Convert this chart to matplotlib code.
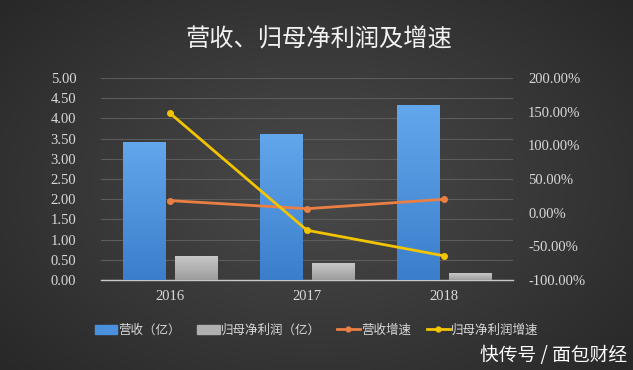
import numpy as np
import matplotlib
matplotlib.use("Agg")
import matplotlib.pyplot as plt
from matplotlib.patches import Patch
from matplotlib.lines import Line2D
from matplotlib.colors import LinearSegmentedColormap

plt.rcParams['font.family'] = ['Noto Sans CJK SC', 'DejaVu Sans']

# data
years = ["2016", "2017", "2018"]
revenue = [3.40, 3.61, 4.33]          # 营收（亿）
net_profit = [0.57, 0.42, 0.15]       # 归母净利润（亿）
revenue_growth = [18.0, 6.0, 20.0]    # 营收增速 %
profit_growth = [148.0, -26.0, -64.0] # 归母净利润增速 %

left_ticks = np.arange(0, 5.01, 0.5)
right_ticks = np.arange(-100, 201, 50)

TXT = "#d9d9d9"
num_font = dict(family="Liberation Serif", size=10.5, color=TXT)

fig = plt.figure(figsize=(6.33, 3.70), dpi=100)

# dark gradient background
bg = fig.add_axes([0, 0, 1, 1], zorder=-10)
yy, xx = np.mgrid[-1:1:200j, -1:1:300j]
r = np.sqrt((xx * 0.9) ** 2 + (yy * 0.8) ** 2)
bg.imshow(-r, cmap=LinearSegmentedColormap.from_list("bg", ["#282828", "#4a4a4a"]),
          aspect="auto", extent=[0, 1, 0, 1])
bg.axis("off")

ax = fig.add_axes([0.160, 0.243, 0.650, 0.546])
ax.set_facecolor("none")
x = np.arange(len(years))
w = 0.31
b1 = ax.bar(x - 0.19, revenue, w, color="#4a90dc", zorder=2)
b2 = ax.bar(x + 0.19, net_profit, w, color="#b0b0b0", zorder=2)

# vertical gradient on bars
grad = np.linspace(1, 0, 100).reshape(-1, 1)
cm_blue = LinearSegmentedColormap.from_list("b", ["#3b7fcc", "#62a6ec"])
cm_gray = LinearSegmentedColormap.from_list("g", ["#9c9c9c", "#c8c8c8"])
for bars, cmap in ((b1, cm_blue), (b2, cm_gray)):
    for p in bars:
        x0, y0 = p.get_x(), p.get_y()
        ax.imshow(grad, cmap=cmap, aspect="auto", zorder=3,
                  extent=[x0, x0 + p.get_width(), y0, y0 + p.get_height()],
                  clip_path=p, clip_on=True)

ax.set_xlim(-0.5, len(years) - 0.5)
ax.set_ylim(0, 5)
ax.set_yticks(left_ticks)
ax.set_yticklabels([f"{v:.2f}" for v in left_ticks], fontdict=num_font)
ax.set_xticks(x)
ax.set_xticklabels(years, fontdict=num_font)
ax.tick_params(length=0, pad=18, axis="y")
ax.tick_params(length=0, pad=7, axis="x")
ax.grid(axis="y", color="#5c5c5c", linewidth=0.8, zorder=0)
ax.set_axisbelow(True)
for s in ("top", "right", "left"):
    ax.spines[s].set_visible(False)
ax.spines["bottom"].set_color("#c8c8c8")
ax.spines["bottom"].set_linewidth(1.0)

ax2 = ax.twinx()
ax2.plot(x, revenue_growth, color="#ea7f45", lw=2, marker="o", ms=4, zorder=5)
ax2.plot(x, profit_growth, color="#f3c400", lw=2, marker="o", ms=4, zorder=6)
ax2.set_ylim(-100, 200)
ax2.set_yticks(right_ticks)
ax2.set_yticklabels([f"{v:.2f}%" for v in right_ticks], fontdict=num_font)
ax2.tick_params(length=0, pad=11)
for s in ax2.spines.values():
    s.set_visible(False)

fig.text(0.504, 0.892, "营收、归母净利润及增速", ha="center", va="center",
         fontsize=17.5, color="#f2f2f2", fontweight="medium")

handles = [
    Patch(color="#4a90dc"),
    Patch(color="#b0b0b0"),
    Line2D([], [], color="#ea7f45", lw=2, marker="o", ms=3.5),
    Line2D([], [], color="#f3c400", lw=2, marker="o", ms=3.5),
]
labels = ["营收（亿）", "归母净利润（亿）", "营收增速", "归母净利润增速"]
fig.legend(handles, labels, loc="center", bbox_to_anchor=(0.5, 0.108), ncol=4,
           frameon=False, fontsize=9, labelcolor=TXT, handlelength=1.8,
           handletextpad=0.1, columnspacing=1.3, handleheight=0.7)

fig.text(0.99, 0.04, "快传号 / 面包财经", ha="right", va="center",
         fontsize=13.5, color="#ffffff")

fig.savefig("out.png", dpi=100)
